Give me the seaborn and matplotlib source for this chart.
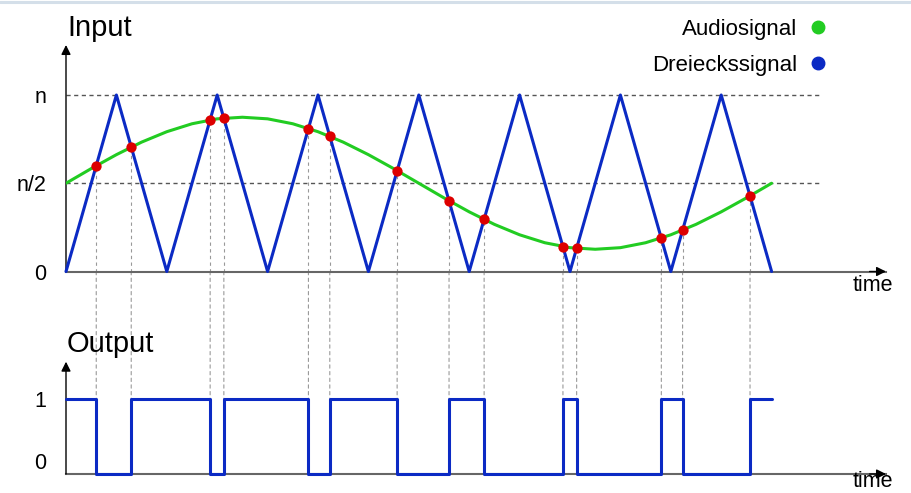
import numpy as np
import pandas as pd
import seaborn as sns
import matplotlib.pyplot as plt
from matplotlib.lines import Line2D
from matplotlib.patches import ConnectionPatch

# Dreieckssignal: one period = 1 time unit, level in units of n
tri_t = [0, 0.5, 1, 1.5, 2, 2.5, 3, 3.5, 4, 4.5, 5, 5.5, 6, 6.5, 7]
tri_v = [0, 1, 0, 1, 0, 1, 0, 1, 0, 1, 0, 1, 0, 1, 0]

# Audiosignal
audio_t = [0, 0.25, 0.5, 0.75, 1, 1.25, 1.5, 1.75, 2, 2.25, 2.5, 2.75, 3, 3.25, 3.5,
           3.75, 4, 4.25, 4.5, 4.75, 5, 5.25, 5.5, 5.75, 6, 6.25, 6.5, 6.75, 7]
audio_v = [0.500, 0.583, 0.662, 0.733, 0.792, 0.837, 0.865, 0.874, 0.865, 0.837,
           0.792, 0.733, 0.662, 0.583, 0.500, 0.417, 0.338, 0.267, 0.208, 0.163,
           0.135, 0.126, 0.135, 0.163, 0.208, 0.267, 0.338, 0.417, 0.500]

# intersections (red dots)
cross_t = [0.300, 0.647, 1.430, 1.566, 2.405, 2.617, 3.285, 3.800, 4.148, 4.930,
           5.066, 5.906, 6.117, 6.786]
cross_v = [0.600, 0.706, 0.860, 0.868, 0.810, 0.766, 0.571, 0.400, 0.295, 0.140,
           0.131, 0.188, 0.234, 0.428]

# PWM output, level from each switching time on
out_t = [0] + cross_t + [7]
out_v = [1, 0, 1, 0, 1, 0, 1, 0, 1, 0, 1, 0, 1, 0, 1, 1]

top_ticks = [0, 0.5, 1]
top_labels = ['0', 'n/2', 'n']

sns.set_style('white')
plt.rcParams['font.family'] = ['Liberation Sans', 'DejaVu Sans']
plt.rcParams['text.color'] = 'black'

blue = '#0b2ac4'
green = '#22cc22'
red = '#dd0000'

fig = plt.figure(figsize=(9.11, 4.93), dpi=100)
left, width = 66 / 911, 820 / 911
ax = fig.add_axes([left, 1 - 271.5 / 493, width, 226.5 / 493])
ax2 = fig.add_axes([left, 1 - 474 / 493, width, 112.3 / 493])
xmax = 820 / 100.8
ax.set_xlim(0, xmax)
ax.set_ylim(0, 226.5 / 176.5)
ax2.set_xlim(0, xmax)
ax2.set_ylim(0, 112.3 / 75.3)

for a in (ax, ax2):
    a.set_facecolor('none')
    for s in ['top', 'right', 'left']:
        a.spines[s].set_visible(False)
    a.spines['bottom'].set_color('#666666')
    a.spines['bottom'].set_linewidth(1.5)
    a.set_xticks([])
    a.tick_params(axis='y', length=0, pad=14, labelsize=15.5, labelcolor='black')
    a.set_xlabel('')
    a.set_ylabel('')
    # axis arrows
    a.annotate('', xy=(0, 1), xytext=(0, 0), xycoords='axes fraction',
               arrowprops=dict(arrowstyle='-|>', color='black', lw=1.0,
                               mutation_scale=14, shrinkA=0, shrinkB=0))
    a.annotate('', xy=(1, 0), xytext=(0.98, 0), xycoords='axes fraction',
               arrowprops=dict(arrowstyle='-|>', color='black', lw=1.0,
                               mutation_scale=14, shrinkA=0, shrinkB=0))

ax.set_yticks(top_ticks, top_labels)
ax2.set_yticks([0, 1], ['0', '1'])
ax2.get_yticklabels()[0].set_va('bottom')

# reference levels n and n/2
ax.hlines([0.5, 1.0], 0, 7.5, colors='#555555', linewidth=1.0,
          linestyles=(0, (3, 2.5)), zorder=1)

# vertical guides from each dot down to the output level
ax.vlines(cross_t, 0, cross_v, colors='#999999', linewidth=0.8,
          linestyles=(0, (3, 3)), zorder=1)
for t in cross_t:
    con = ConnectionPatch(xyA=(t, 0), coordsA=ax.transData, xyB=(t, 1), coordsB=ax2.transData,
                          color='#999999', linewidth=0.8, linestyle=(0, (3, 3)), zorder=0)
    fig.add_artist(con)

sns.lineplot(x=tri_t, y=tri_v, ax=ax, color=blue, linewidth=2.2, clip_on=False, zorder=3)
sns.lineplot(x=audio_t, y=audio_v, ax=ax, color=green, linewidth=2.2, zorder=4)
sns.scatterplot(x=cross_t, y=cross_v, ax=ax, color=red, s=55, linewidth=0, zorder=5)

sns.lineplot(x=out_t, y=out_v, ax=ax2, color=blue, linewidth=2.2,
             drawstyle='steps-post', clip_on=False, zorder=3)

fig.text(67 / 911, 1 - 36.5 / 493, 'Input', fontsize=21, va='baseline', ha='left')
fig.text(67 / 911, 1 - 351.5 / 493, 'Output', fontsize=21, va='baseline', ha='left')
fig.text(893 / 911, 1 - 291 / 493, 'time', fontsize=15.5, va='baseline', ha='right')
fig.text(893 / 911, 0.002, 'time', fontsize=15.5, va='bottom', ha='right')

handles = [Line2D([], [], ls='', marker='o', color=green, ms=9, label='Audiosignal'),
           Line2D([], [], ls='', marker='o', color=blue, ms=9, label='Dreieckssignal')]
fig.legend(handles=handles, loc='upper right', bbox_to_anchor=(824.6 / 911, 1 - 19 / 493),
           frameon=False, markerfirst=False, fontsize=16, handlelength=0.6,
           handletextpad=0.65, borderpad=0, borderaxespad=0, labelspacing=0.68)

fig.add_artist(Line2D([0, 1], [1 - 1.5 / 493, 1 - 1.5 / 493], color='#d4dfe9', linewidth=2.2))

fig.savefig('out.png', dpi=100)
